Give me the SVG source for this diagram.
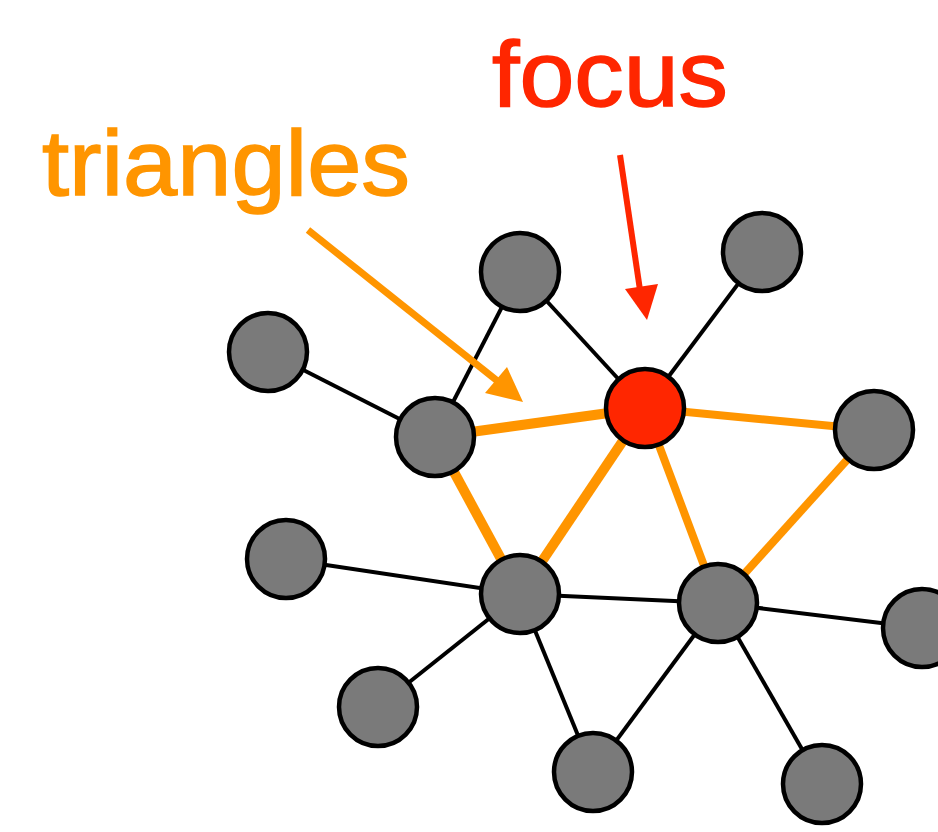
<svg xmlns="http://www.w3.org/2000/svg" width="938" height="832" viewBox="0 0 938 832">
<style>
.node{fill:#7a7a7a;stroke:#000;stroke-width:4.5}
.focus{fill:#ff2600;stroke:#000;stroke-width:4.5}
.e{stroke:#000;stroke-width:4;fill:none}
.t{stroke:#ff9500;fill:none}
.lbl{font-family:"Liberation Sans",Arial,sans-serif;font-size:92px;stroke-width:1.5}
</style>
<rect width="938" height="832" fill="#fff"/>
<g id="connectors">
<line class="e" x1="520" y1="272" x2="435" y2="437"/>
<line class="e" x1="520" y1="272" x2="645" y2="408"/>
<line class="e" x1="762" y1="252" x2="645" y2="408"/>
<line class="e" x1="268" y1="352" x2="435" y2="437"/>
<line class="e" x1="286" y1="559" x2="520" y2="594"/>
<line class="e" x1="520" y1="594" x2="718" y2="603"/>
<line class="e" x1="718" y1="603" x2="922" y2="628"/>
<line class="e" x1="520" y1="594" x2="378" y2="707"/>
<line class="e" x1="520" y1="594" x2="593" y2="772"/>
<line class="e" x1="718" y1="603" x2="593" y2="772"/>
<line class="e" x1="718" y1="603" x2="822" y2="784"/>
<line class="t" stroke-width="10" x1="435" y1="437" x2="645" y2="408"/>
<line class="t" stroke-width="8" x1="645" y1="408" x2="874" y2="430"/>
<line class="t" stroke-width="10" x1="435" y1="437" x2="520" y2="594"/>
<line class="t" stroke-width="10" x1="520" y1="594" x2="645" y2="408"/>
<line class="t" stroke-width="8" x1="645" y1="408" x2="718" y2="603"/>
<line class="t" stroke-width="8" x1="718" y1="603" x2="874" y2="430"/>
</g>
<g id="n1"><circle class="node" cx="520" cy="272" r="39"/></g>
<g id="n2"><circle class="node" cx="762" cy="252" r="39"/></g>
<g id="n3"><circle class="node" cx="268" cy="352" r="39"/></g>
<g id="n5"><circle class="node" cx="435" cy="437" r="39"/></g>
<g id="n6"><circle class="node" cx="874" cy="430" r="39"/></g>
<g id="n7"><circle class="node" cx="286" cy="559" r="39"/></g>
<g id="n8"><circle class="node" cx="520" cy="594" r="39"/></g>
<g id="n9"><circle class="node" cx="718" cy="603" r="39"/></g>
<g id="n10"><circle class="node" cx="922" cy="628" r="39"/></g>
<g id="n11"><circle class="node" cx="378" cy="707" r="39"/></g>
<g id="n12"><circle class="node" cx="593" cy="772" r="39"/></g>
<g id="n13"><circle class="node" cx="822" cy="784" r="39"/></g>
<g id="n4"><circle class="focus" cx="645" cy="408" r="39"/></g>
<g id="arrows">
<line x1="308" y1="230" x2="500" y2="383" stroke="#ff9500" stroke-width="7"/>
<polygon points="523,402 485,393 507,367" fill="#ff9500"/>
<line x1="620" y1="155" x2="640" y2="290" stroke="#ff2600" stroke-width="6"/>
<polygon points="647,320 625,289 658,284" fill="#ff2600"/>
</g>
<g id="labels">
<text class="lbl" x="42" y="195" fill="#ff9500" stroke="#ff9500" textLength="368" lengthAdjust="spacingAndGlyphs">triangles</text>
<text class="lbl" x="492" y="106" fill="#ff2600" stroke="#ff2600" textLength="236" lengthAdjust="spacingAndGlyphs">focus</text>
</g>
</svg>
